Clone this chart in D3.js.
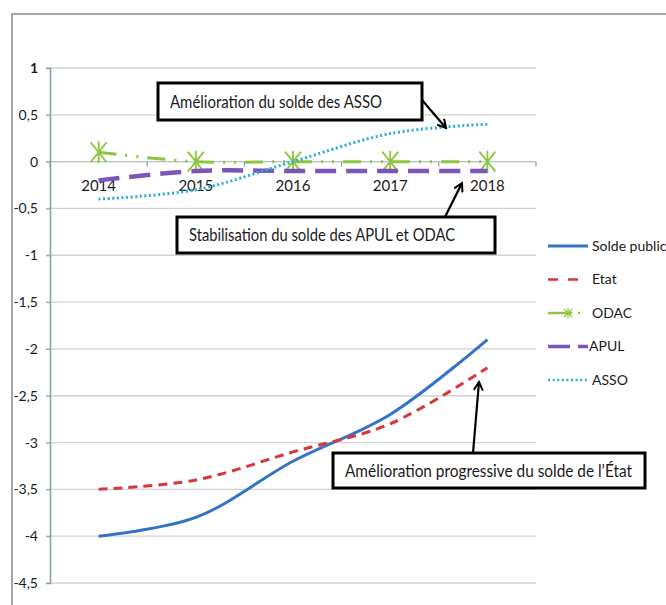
<!DOCTYPE html>
<html>
<head>
<meta charset="utf-8">
<script src="https://cdn.jsdelivr.net/npm/d3@7"></script>
<style>
  body { margin: 0; background: #fff; }
  text { font-family: Lato, "Open Sans", sans-serif; fill: #1a1a1a; }
</style>
</head>
<body>
<div id="chart"></div>
<script>
// data
const years = ["2014", "2015", "2016", "2017", "2018"];
const soldePublic = [-4.0, -3.8, -3.2, -2.7, -1.9];
const etat = [-3.5, -3.4, -3.1, -2.8, -2.2];
const odac = [0.1, 0, 0, 0, 0];
const apul = [-0.2, -0.1, -0.1, -0.1, -0.1];
const asso = [-0.4, -0.3, 0, 0.3, 0.4];
const yTicks = [1, 0.5, 0, -0.5, -1, -1.5, -2, -2.5, -3, -3.5, -4, -4.5];

const W = 666, H = 605;

const svg = d3.select("#chart").append("svg")
    .attr("width", W)
    .attr("height", H);

const defs = svg.append("defs");
defs.append("marker")
    .attr("id", "arrow")
    .attr("viewBox", "0 0 12 12")
    .attr("refX", 10).attr("refY", 6)
    .attr("markerWidth", 5).attr("markerHeight", 5)
    .attr("markerUnits", "strokeWidth")
    .attr("orient", "auto")
    .append("path")
    .attr("d", "M1,1 L10,6 L1,11")
    .attr("fill", "none")
    .attr("stroke", "#000")
    .attr("stroke-width", 2.2);

// outer frame (top and left edge)
svg.append("path")
    .attr("d", `M12,${H} L12,14 L${W},14`)
    .attr("fill", "none")
    .attr("stroke", "#a6a6a6")
    .attr("stroke-width", 2);

// scales
const x = d3.scaleBand()
    .domain(years)
    .range([50, 536]);

const y = d3.scaleLinear()
    .domain([-4.5, 1])
    .range([583, 68]);

const cx = d => x(d) + x.bandwidth() / 2;

// gridlines
svg.append("g")
    .selectAll("line")
    .data(yTicks)
    .join("line")
    .attr("x1", 46).attr("x2", 536)
    .attr("y1", d => y(d)).attr("y2", d => y(d))
    .attr("stroke", d => d === 0 ? "#b8c0c0" : "#cfd3d3")
    .attr("stroke-width", 1.3);

// y axis
const yAxis = svg.append("g")
    .attr("transform", "translate(50,0)")
    .call(d3.axisLeft(y)
        .tickValues(yTicks)
        .tickSize(4)
        .tickPadding(8)
        .tickFormat(d => String(d).replace(".", ",")));
yAxis.select(".domain").attr("stroke", "#8fa2a2").attr("stroke-width", 1.6);
yAxis.selectAll(".tick line").attr("stroke", "#8fa2a2");
yAxis.selectAll("text")
    .style("font-size", "14px")
    .attr("fill", "#1a1a1a");
yAxis.selectAll("text").filter(d => d === 1)
    .style("font-weight", "bold");

// x axis along zero, ticks at category boundaries
const xAxis = svg.append("g")
    .attr("transform", `translate(0,${y(0)})`)
    .call(d3.axisBottom(x).tickSize(0).tickPadding(19));
xAxis.select(".domain").remove();
xAxis.selectAll("text")
    .style("font-size", "15px")
    .attr("fill", "#1a1a1a");
svg.append("g")
    .selectAll("line")
    .data(years.map(d => x(d)).concat([x.range()[1]]))
    .join("line")
    .attr("x1", d => d).attr("x2", d => d)
    .attr("y1", y(0)).attr("y2", y(0) + 5)
    .attr("stroke", "#8fa2a2")
    .attr("stroke-width", 1.2);

// series
const series = [
    { name: "Solde public", values: soldePublic, color: "#3573c6", width: 3, dash: null },
    { name: "Etat", values: etat, color: "#d7373a", width: 3, dash: "9,6" },
    { name: "ODAC", values: odac, color: "#8cc63f", width: 3, dash: "18,9,2,9,2,9", marker: true },
    { name: "APUL", values: apul, color: "#7b55b8", width: 4.5, dash: "21,10" },
    { name: "ASSO", values: asso, color: "#2aaed6", width: 3, dash: "2,2.6" }
];

const line = d3.line()
    .x((d, i) => cx(years[i]))
    .y(d => y(d))
    .curve(d3.curveCatmullRom.alpha(0.5));

const star = (g, px, py, color) => {
    g.append("path")
        .attr("d", `M${px - 8},${py - 10} L${px + 8},${py + 10} M${px + 8},${py - 10} L${px - 8},${py + 10} M${px},${py - 11} L${px},${py + 11}`)
        .attr("stroke", color)
        .attr("stroke-width", 1.8)
        .attr("fill", "none");
};

series.forEach(s => {
    svg.append("path")
        .datum(s.values)
        .attr("fill", "none")
        .attr("stroke", s.color)
        .attr("stroke-width", s.width)
        .attr("stroke-dasharray", s.dash)
        .attr("d", line);
    if (s.marker) {
        const mg = svg.append("g");
        s.values.forEach((v, i) => star(mg, cx(years[i]), y(v), s.color));
    }
});

// legend
const legend = svg.append("g").attr("transform", "translate(548,246)");
series.forEach((s, i) => {
    const ly = i * 33.5;
    legend.append("line")
        .attr("x1", 0).attr("x2", 40)
        .attr("y1", ly).attr("y2", ly)
        .attr("stroke", s.color)
        .attr("stroke-width", s.name === "APUL" ? 3.5 : (s.name === "Solde public" ? 3 : 2.5))
        .attr("stroke-dasharray", s.name === "Etat" ? "10,10" : s.name === "ODAC" ? "24,6,2,20" : s.name === "APUL" ? "22,8" : s.dash);
    if (s.marker) {
        legend.append("path")
            .attr("d", `M16,${ly - 4} L24,${ly + 4} M24,${ly - 4} L16,${ly + 4} M20,${ly - 5} L20,${ly + 5}`)
            .attr("stroke", s.color)
            .attr("stroke-width", 1.2);
    }
    legend.append("text")
        .attr("x", s.name === "APUL" ? 41 : 44)
        .attr("y", ly)
        .attr("dy", "0.35em")
        .style("font-size", "14px")
        .text(s.name);
});

// annotations
const notes = [
    { text: "Amélioration du solde des ASSO", box: [158, 83, 422, 120], tw: 212, arrow: [[422, 100], [446, 128]] },
    { text: "Stabilisation du solde des APUL et ODAC", box: [177, 217, 495, 253], tw: 266, arrow: [[445, 217], [462, 183]] },
    { text: "Amélioration progressive du solde de l\u2019État", box: [333, 453, 645, 488], tw: 287, arrow: [[473, 453], [479, 382]] }
];

notes.forEach(n => {
    const [x0, y0, x1, y1] = n.box;
    svg.append("line")
        .attr("x1", n.arrow[0][0]).attr("y1", n.arrow[0][1])
        .attr("x2", n.arrow[1][0]).attr("y2", n.arrow[1][1])
        .attr("stroke", "#000")
        .attr("stroke-width", 2.2)
        .attr("marker-end", "url(#arrow)");
    svg.append("rect")
        .attr("x", x0).attr("y", y0)
        .attr("width", x1 - x0).attr("height", y1 - y0)
        .attr("fill", "#fff")
        .attr("stroke", "#000")
        .attr("stroke-width", 3);
    svg.append("text")
        .attr("x", x0 + 12)
        .attr("y", (y0 + y1) / 2)
        .attr("dy", "0.36em")
        .attr("textLength", n.tw)
        .attr("lengthAdjust", "spacingAndGlyphs")
        .style("font-size", "17px")
        .text(n.text);
});
</script>
</body>
</html>
